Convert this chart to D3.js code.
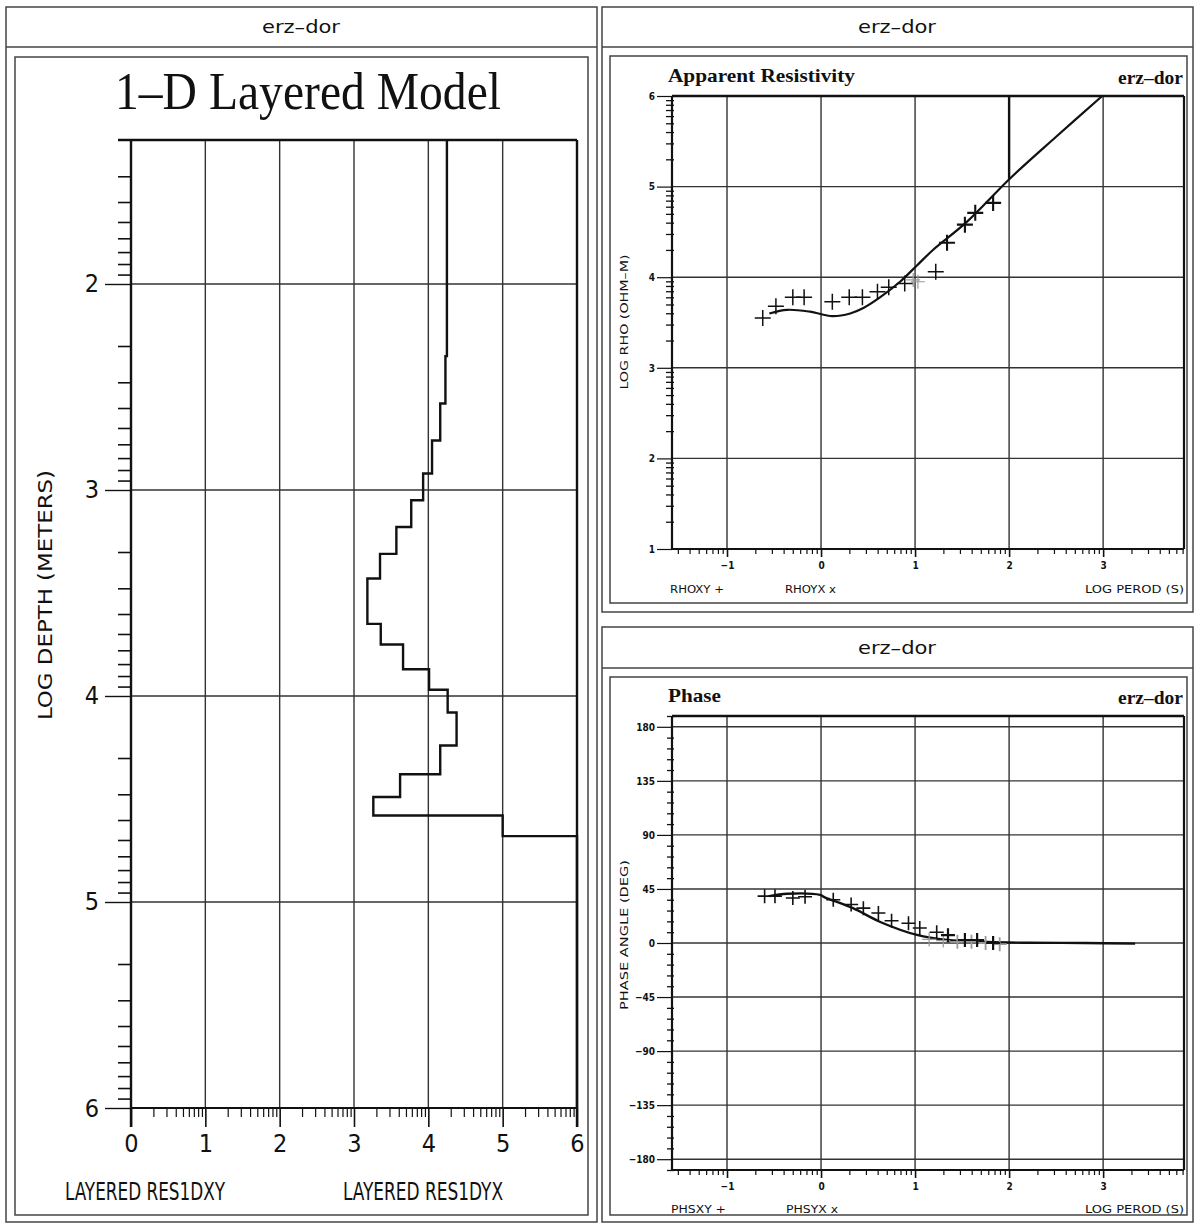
<!DOCTYPE html>
<html>
<head>
<meta charset="utf-8">
<script src="https://cdn.jsdelivr.net/npm/d3@7"></script>
<style>
body { margin: 0; background: #fff; }
svg { display: block; }
.sans { font-family: "DejaVu Sans Condensed", "Liberation Sans Narrow", "DejaVu Sans", sans-serif; fill: #111; }
.serif { font-family: "Liberation Serif", "DejaVu Serif", serif; fill: #111; }
</style>
</head>
<body>
<div id="chart"></div>
<script>
// 1-D layered model: log depth of each layer top, log resistivity of the layer
const layerTop = [1.301, 2.35, 2.58, 2.76, 2.92, 3.05, 3.18, 3.31, 3.43, 3.65, 3.75, 3.87, 3.97, 4.08, 4.24, 4.38, 4.49, 4.58, 4.68];
const layerRes = [4.25, 4.23, 4.16, 4.05, 3.93, 3.77, 3.57, 3.35, 3.18, 3.36, 3.66, 4.01, 4.26, 4.38, 4.16, 3.62, 3.26, 5.0, 6.0];
const modelBottom = 6;
const depthTicks = [2, 3, 4, 5, 6];
const resTicks = [0, 1, 2, 3, 4, 5, 6];

// apparent resistivity (log period, log rho)
const rhoPeriod = [-0.62, -0.48, -0.30, -0.18, 0.12, 0.30, 0.44, 0.60, 0.72, 0.89, 1.22, 1.34, 1.53, 1.64, 1.83];
const rhoXY = [3.55, 3.68, 3.78, 3.78, 3.73, 3.78, 3.78, 3.84, 3.89, 3.93, 4.06, 4.38, 4.58, 4.71, 4.82];
const rhoYxPeriod = [0.98, 1.03];
const rhoYX = [3.97, 3.95];
const rhoModelPeriod = [-0.55, -0.36, -0.12, 0.12, 0.31, 0.45, 0.63, 0.84, 1.02, 1.19, 1.55, 2.01, 2.5, 2.99];
const rhoModel = [3.6, 3.64, 3.62, 3.57, 3.60, 3.66, 3.78, 3.95, 4.13, 4.30, 4.61, 5.09, 5.55, 6.0];
const rhoModel2Period = [2.0, 2.0];
const rhoModel2 = [5.08, 6.0];
const rhoTicks = [1, 2, 3, 4, 5, 6];

// phase (log period, degrees)
const phsPeriod = [-0.6, -0.49, -0.30, -0.17, 0.13, 0.32, 0.45, 0.61, 0.75, 0.93, 1.05, 1.23, 1.35, 1.53, 1.66, 1.83];
const phsXY = [39, 39, 37.5, 38.5, 36, 32, 29, 25, 18.5, 16.5, 12.5, 9, 6.5, 2.5, 2.5, 0];
const phsYxPeriod = [1.15, 1.3, 1.45, 1.6, 1.75, 1.9];
const phsYX = [3, 2, 1, 1, 0, -1];
const phsModelPeriod = [-0.55, -0.36, -0.01, 0.04, 0.34, 0.63, 1.02, 1.34, 1.77, 2.2, 2.8, 3.34];
const phsModel = [39, 41, 40, 38, 29, 17.5, 6.7, 2.5, 0.8, 0.2, 0, -0.5];
const phaseTicks = [-180, -135, -90, -45, 0, 45, 90, 135, 180];
const periodTicks = [-1, 0, 1, 2, 3];

const W = 1197, H = 1229;
const svg = d3.select("#chart").append("svg")
    .attr("width", W).attr("height", H)
    .attr("viewBox", `0 0 ${W} ${H}`);
svg.append("rect").attr("width", W).attr("height", H).attr("fill", "#fff");

// log minor tick positions between integers
function logMinor(lo, hi) {
    const out = [];
    for (let n = Math.floor(lo); n < hi; n++) {
        for (let k = 2; k <= 9; k++) {
            const v = n + Math.log10(k);
            if (v > lo + 1e-6 && v < hi - 1e-6) out.push(v);
        }
    }
    return out;
}

function text(x, y, str, cls, size, opts = {}) {
    const t = svg.append("text").attr("class", cls)
        .attr("x", x).attr("y", y)
        .style("font-size", size + "px")
        .attr("text-anchor", opts.anchor || "start")
        .text(str);
    if (opts.len) t.attr("textLength", opts.len).attr("lengthAdjust", "spacingAndGlyphs");
    if (opts.weight) t.style("font-weight", opts.weight);
    if (opts.rotate) t.attr("transform", `rotate(-90,${x},${y})`);
    return t;
}

function line(x1, y1, x2, y2, w, c) {
    svg.append("line").attr("x1", x1).attr("y1", y1).attr("x2", x2).attr("y2", y2)
        .attr("stroke", c || "#222").attr("stroke-width", w || 1);
}

function frame(x, y, w, h, sw) {
    svg.append("rect").attr("x", x).attr("y", y).attr("width", w).attr("height", h)
        .attr("fill", "none").attr("stroke", "#444").attr("stroke-width", sw || 1.5);
}

// panel frames
frame(6, 7, 591, 1215);
line(6, 47, 597, 47, 1.5, "#444");
frame(15, 57, 573, 1158);
frame(602, 7, 591, 605);
line(602, 47, 1193, 47, 1.5, "#444");
frame(610, 56, 577, 547);
frame(602, 627, 591, 595);
line(602, 668, 1193, 668, 1.5, "#444");
frame(610, 677, 577, 538);

text(301, 33, "erz\u2013dor", "sans", 17, { anchor: "middle", len: 78, weight: 300 });
text(897, 33, "erz\u2013dor", "sans", 17, { anchor: "middle", len: 78, weight: 300 });
text(897, 654, "erz\u2013dor", "sans", 17, { anchor: "middle", len: 78, weight: 300 });

function styleAxis(g, size, weight) {
    g.select(".domain").remove();
    g.selectAll(".tick line").attr("stroke", "#111").attr("stroke-width", 1.6);
    g.selectAll(".tick text").attr("class", "sans").attr("fill", "#111")
        .style("font-size", size + "px").style("font-weight", weight || "normal")
        .style("font-family", "\"DejaVu Sans Condensed\", \"Liberation Sans Narrow\", sans-serif");
}

// ---------------- left: layered model ----------------
const x0 = d3.scaleLinear().domain([0, 6]).range([131, 577]);
const y0 = d3.scaleLinear().domain([Math.log10(20), 6]).range([140, 1108]);

text(308, 109, "1\u2013D  Layered  Model", "serif", 52, { anchor: "middle", len: 386 });

resTicks.slice(1, -1).forEach(v => line(x0(v), y0.range()[0], x0(v), y0.range()[1], 1.4, "#333"));
depthTicks.slice(0, -1).forEach(v => line(x0(0), y0(v), x0(6), y0(v), 1.4, "#333"));

const gl = svg.append("g").attr("transform", `translate(${x0(0)},0)`)
    .call(d3.axisLeft(y0).tickValues(depthTicks).tickSize(26).tickPadding(6).tickFormat(d3.format("d")));
styleAxis(gl, 25, 300);
gl.selectAll(".tick line").attr("stroke-width", 1.4);
const glm = svg.append("g").attr("transform", `translate(${x0(0)},0)`)
    .call(d3.axisLeft(y0).tickValues(logMinor(y0.domain()[0], 6)).tickSize(13).tickFormat(""));
styleAxis(glm);

const gb = svg.append("g").attr("transform", `translate(0,${y0(6)})`)
    .call(d3.axisBottom(x0).tickValues(resTicks).tickSize(19).tickPadding(7).tickFormat(d3.format("d")));
styleAxis(gb, 25, 300);
const gbm = svg.append("g").attr("transform", `translate(0,${y0(6)})`)
    .call(d3.axisBottom(x0).tickValues(logMinor(0, 6)).tickSize(9).tickFormat(""));
styleAxis(gbm);
gbm.selectAll(".tick line").attr("stroke-width", 1.2);

line(x0(0), y0.range()[0], x0(0), y0(6) + 19, 2.4, "#111");
line(x0(0) - 13, y0.range()[0], x0(6), y0.range()[0], 2.6, "#111");
line(x0(6), y0.range()[0], x0(6), y0(6) + 19, 2.4, "#111");
line(x0(0), y0(6), x0(6), y0(6), 2.2, "#111");

text(52, 595, "LOG DEPTH (METERS)", "sans", 20, { anchor: "middle", rotate: true, len: 250, weight: 300 });
text(65, 1200, "LAYERED RES1DXY", "sans", 24, { len: 160, weight: 300 });
text(503, 1200, "LAYERED RES1DYX", "sans", 24, { anchor: "end", len: 160, weight: 300 });

const stepPts = [];
layerRes.forEach((r, i) => {
    stepPts.push([r, layerTop[i]]);
    stepPts.push([r, i + 1 < layerTop.length ? layerTop[i + 1] : modelBottom]);
});
svg.append("path").datum(stepPts)
    .attr("fill", "none").attr("stroke", "#111").attr("stroke-width", 2.4)
    .attr("d", d3.line().x(d => x0(d[0])).y(d => y0(d[1])));

// ---------------- right: shared helpers ----------------
function periodPanel(x, y, top, yTicks, minorY, minorLen, yFmt) {
    const [yb, yt] = y.range();
    periodTicks.forEach(v => line(x(v), yt, x(v), yb, 1.4, "#333"));
    yTicks.forEach(v => { if (y(v) > yt + 2 && y(v) < yb - 2) line(x.range()[0], y(v), x.range()[1], y(v), 1.4, "#333"); });

    const ga = svg.append("g").attr("transform", `translate(${x.range()[0]},0)`)
        .call(d3.axisLeft(y).tickValues(yTicks).tickSize(15).tickPadding(2).tickFormat(yFmt));
    styleAxis(ga, 10, "bold");
    ga.selectAll(".tick line").attr("stroke-width", 1.2);
    const gm = svg.append("g").attr("transform", `translate(${x.range()[0] + 2},0)`)
        .call(d3.axisLeft(y).tickValues(minorY).tickSize(minorLen).tickFormat(""));
    styleAxis(gm);
    gm.selectAll(".tick line").attr("stroke-width", 1.3);

    const gx = svg.append("g").attr("transform", `translate(0,${yb})`)
        .call(d3.axisBottom(x).tickValues(periodTicks).tickSize(8).tickPadding(5).tickFormat(d3.format("d")));
    styleAxis(gx, 10, "bold");
    const gxm = svg.append("g").attr("transform", `translate(0,${yb})`)
        .call(d3.axisBottom(x).tickValues(logMinor(x.domain()[0], x.domain()[1])).tickSize(5).tickFormat(""));
    styleAxis(gxm);
    gxm.selectAll(".tick line").attr("stroke-width", 1.2);

    line(x.range()[0], yt, x.range()[0], yb, 2.2, "#111");
    line(x.range()[0], yt, x.range()[1], yt, 2.4, "#111");
    line(x.range()[1], yt, x.range()[1], yb, 2.2, "#111");
    line(x.range()[0], yb, x.range()[1], yb, 2.2, "#111");
}

function crosses(x, y, px, vals, size, sw, color) {
    svg.append("g").selectAll("path").data(px.map((p, i) => [p, vals[i]])).join("path")
        .attr("transform", d => `translate(${x(d[0])},${y(d[1])})`)
        .attr("d", `M${-size},0H${size}M0,${-size}V${size}`)
        .attr("stroke", color || "#111").attr("stroke-width", d => d[0] > 1.3 ? sw + 0.6 : sw).attr("fill", "none");
}

function curve(x, y, px, vals, sw, shape) {
    svg.append("path").datum(px.map((p, i) => [p, vals[i]]))
        .attr("fill", "none").attr("stroke", "#111").attr("stroke-width", sw)
        .attr("d", d3.line().curve(shape || d3.curveLinear).x(d => x(d[0])).y(d => y(d[1])));
}

// ---------------- right top: apparent resistivity ----------------
const x1 = d3.scaleLinear().domain([-1.585, 3.86]).range([672, 1184]);
const y1 = d3.scaleLinear().domain([1, 6]).range([549, 96]);

text(668, 82, "Apparent  Resistivity", "serif", 19, { len: 187, weight: "bold" });
text(1183, 84, "erz\u2013dor", "serif", 18, { anchor: "end", len: 65, weight: "bold" });

periodPanel(x1, y1, 96, rhoTicks, logMinor(1, 6), 8, d3.format("d"));
text(628, 322, "LOG  RHO  (OHM\u2013M)", "sans", 11, { anchor: "middle", rotate: true, len: 135 });
text(670, 593, "RHOXY  +", "sans", 11, { len: 54 });
text(785, 593, "RHOYX  x", "sans", 11, { len: 51 });
text(1184, 593, "LOG  PEROD  (S)", "sans", 11, { anchor: "end", len: 99 });

curve(x1, y1, rhoModelPeriod, rhoModel, 2.2, d3.curveCatmullRom);
curve(x1, y1, rhoModel2Period, rhoModel2, 2.4);
crosses(x1, y1, rhoYxPeriod, rhoYX, 7, 1.2, "#999");
crosses(x1, y1, rhoPeriod, rhoXY, 8, 1.5);

// ---------------- right bottom: phase ----------------
const x2 = d3.scaleLinear().domain([-1.585, 3.86]).range([672, 1184]);
const y2 = d3.scaleLinear().domain([-189, 189]).range([1170, 716]);

text(668, 702, "Phase", "serif", 19, { len: 53, weight: "bold" });
text(1183, 704, "erz\u2013dor", "serif", 18, { anchor: "end", len: 65, weight: "bold" });

periodPanel(x2, y2, 716, phaseTicks, d3.range(-189, 190, 9).filter(v => v % 45 !== 0), 7, d3.format("d"));
text(628, 935, "PHASE  ANGLE  (DEG)", "sans", 11, { anchor: "middle", rotate: true, len: 150 });
text(671, 1213, "PHSXY  +", "sans", 11, { len: 55 });
text(786, 1213, "PHSYX  x", "sans", 11, { len: 52 });
text(1184, 1213, "LOG  PEROD  (S)", "sans", 11, { anchor: "end", len: 99 });

curve(x2, y2, phsModelPeriod, phsModel, 2.4, d3.curveCatmullRom);
crosses(x2, y2, phsYxPeriod, phsYX, 7, 1.2, "#999");
crosses(x2, y2, phsPeriod, phsXY, 7, 1.6);
</script>
</body>
</html>
